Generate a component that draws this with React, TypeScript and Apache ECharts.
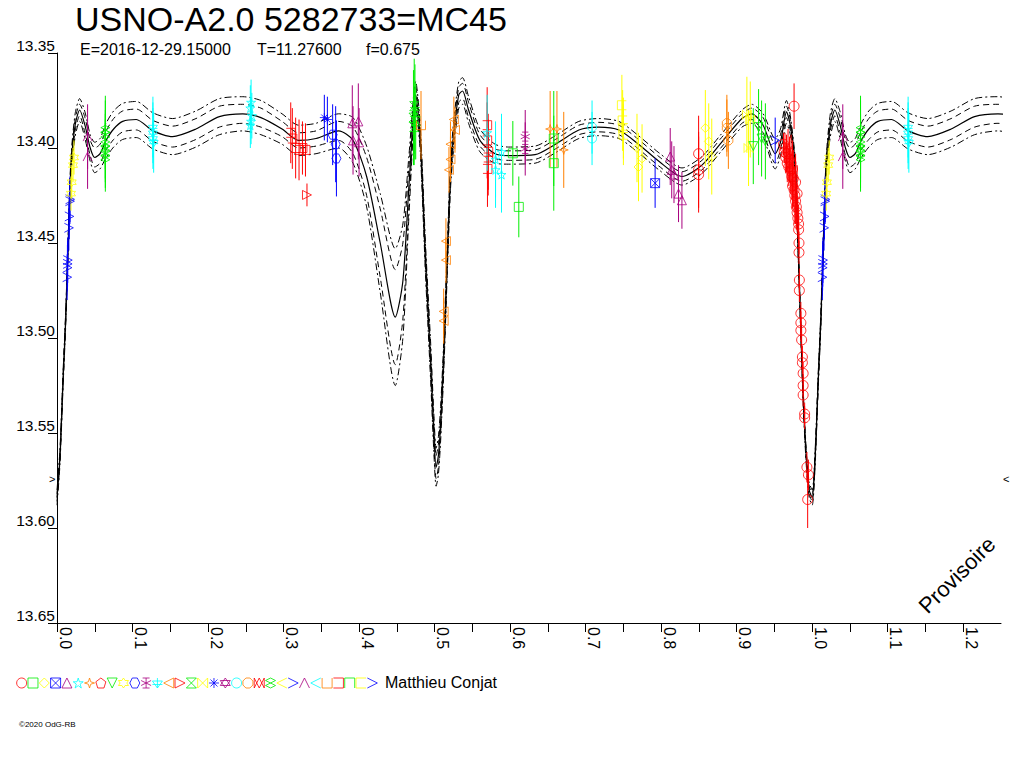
import React, { useEffect, useRef } from 'react';
import * as echarts from 'echarts';

const FONT = '"Liberation Sans", Arial, Helvetica, sans-serif';

// ---- model light curve (center) and envelope half-widths ----
const modelPhase = [0.000, 0.004, 0.008, 0.0116, 0.015, 0.0185, 0.024, 0.030, 0.037, 0.044, 0.050, 0.057, 0.065, 0.075, 0.087, 0.105, 0.127, 0.153, 0.184, 0.215, 0.246, 0.270, 0.298, 0.320, 0.343, 0.373, 0.392, 0.410, 0.428, 0.448, 0.458, 0.466, 0.475, 0.481, 0.488, 0.4947, 0.499, 0.502, 0.505, 0.508, 0.5123, 0.5167, 0.521, 0.5255, 0.532, 0.537, 0.545, 0.560, 0.580, 0.598, 0.633, 0.660, 0.691, 0.717, 0.744, 0.770, 0.797, 0.8275, 0.854, 0.880, 0.907, 0.920, 0.935, 0.951, 0.958, 0.966, 0.971, 0.9775, 0.981, 0.9844, 0.988, 0.992, 0.996];
const modelMag = [13.584, 13.562, 13.522, 13.489, 13.448, 13.410, 13.388, 13.380, 13.388, 13.400, 13.405, 13.403, 13.396, 13.390, 13.386, 13.385, 13.391, 13.394, 13.390, 13.3835, 13.382, 13.384, 13.390, 13.396, 13.395, 13.391, 13.396, 13.415, 13.450, 13.489, 13.470, 13.420, 13.372, 13.395, 13.459, 13.512, 13.550, 13.568, 13.562, 13.545, 13.508, 13.460, 13.415, 13.392, 13.372, 13.370, 13.380, 13.396, 13.403, 13.404, 13.4035, 13.398, 13.3905, 13.389, 13.3905, 13.398, 13.407, 13.415, 13.409, 13.397, 13.3845, 13.382, 13.388, 13.403, 13.397, 13.381, 13.388, 13.410, 13.448, 13.489, 13.530, 13.562, 13.580];
const innerHalf = [0.002, 0.002, 0.002, 0.002, 0.002, 0.003, 0.003, 0.003, 0.004, 0.004, 0.005, 0.005, 0.005, 0.0055, 0.0055, 0.0055, 0.0055, 0.0055, 0.0055, 0.0055, 0.005, 0.005, 0.004, 0.004, 0.004, 0.005, 0.007, 0.010, 0.018, 0.025, 0.020, 0.010, 0.004, 0.004, 0.005, 0.006, 0.006, 0.006, 0.006, 0.005, 0.005, 0.004, 0.004, 0.004, 0.004, 0.004, 0.004, 0.003, 0.0025, 0.0025, 0.0025, 0.0025, 0.0025, 0.0025, 0.0025, 0.0025, 0.0025, 0.0025, 0.0025, 0.0025, 0.0025, 0.003, 0.004, 0.005, 0.004, 0.003, 0.003, 0.002, 0.002, 0.002, 0.002, 0.002, 0.002];
const outerHalf = [0.004, 0.004, 0.004, 0.004, 0.004, 0.005, 0.006, 0.006, 0.007, 0.007, 0.008, 0.008, 0.009, 0.0095, 0.0095, 0.0095, 0.0095, 0.0095, 0.0095, 0.0095, 0.009, 0.009, 0.008, 0.008, 0.008, 0.009, 0.012, 0.016, 0.026, 0.036, 0.030, 0.016, 0.007, 0.007, 0.008, 0.010, 0.010, 0.010, 0.010, 0.009, 0.008, 0.007, 0.007, 0.007, 0.007, 0.007, 0.007, 0.006, 0.005, 0.0045, 0.0045, 0.0045, 0.0045, 0.0045, 0.0045, 0.0045, 0.0045, 0.0045, 0.0045, 0.0045, 0.0045, 0.005, 0.006, 0.008, 0.007, 0.006, 0.005, 0.004, 0.004, 0.004, 0.004, 0.004, 0.004];

// ---- legend styles (colour + symbol), in legend order ----
const RED = '#ff0000', GREEN = '#00ee00', YELLOW = '#ffff00', BLUE = '#0000ff', MAGENTA = '#a8007f', CYAN = '#00ffff', ORANGE = '#ff8000';
const legendColors = [RED, GREEN, YELLOW, BLUE, MAGENTA, CYAN, ORANGE, RED, GREEN, YELLOW, BLUE, MAGENTA, CYAN, ORANGE, RED, GREEN, YELLOW, BLUE, MAGENTA, CYAN, ORANGE, RED, GREEN, YELLOW, BLUE, MAGENTA, CYAN, ORANGE, RED, GREEN, YELLOW, BLUE];
const legendSymbols = [
  'circle',
  'rect',
  'diamond',
  'path://M0,0L10,0L10,10L0,10ZM0,0L10,10M10,0L0,10',
  'triangle',
  'path://M5,0L6.2,3.6L10,3.6L6.9,5.8L8.1,9.5L5,7.2L1.9,9.5L3.1,5.8L0,3.6L3.8,3.6Z',
  'path://M5,0L6.2,3.8L10,5L6.2,6.2L5,10L3.8,6.2L0,5L3.8,3.8Z',
  'path://M5,0L10,3.8L8.1,10L1.9,10L0,3.8Z',
  'path://M0,0L10,0L5,10Z',
  'path://M5,0L6.4,2.5L9.3,2.5L7.9,5L9.3,7.5L6.4,7.5L5,10L3.6,7.5L0.7,7.5L2.1,5L0.7,2.5L3.6,2.5Z',
  'path://M2.5,0L7.5,0L10,5L7.5,10L2.5,10L0,5Z',
  'path://M5,0L5,10M0.7,2.5L9.3,7.5M0.7,7.5L9.3,2.5M2,0L8,0M2,10L8,10',
  'path://M0,3L10,3L5,10ZM5,0L5,10M0,6.5L10,6.5',
  'path://M10,0L10,10L0,5Z',
  'path://M0,0L0,10L10,5Z',
  'path://M0,0L10,0L0,10L10,10Z',
  'path://M0,0L0,10L10,0L10,10Z',
  'path://M5,0L5,10M0,5L10,5M1.5,1.5L8.5,8.5M8.5,1.5L1.5,8.5',
  'path://M5,0L9.3,7.5L0.7,7.5ZM5,10L0.7,2.5L9.3,2.5Z',
  'circle',
  'path://M3,0L7,0L10,3L10,7L7,10L3,10L0,7L0,3Z',
  'path://M0,2L5,8L10,2L10,8L5,2L0,8Z',
  'path://M5,0L8,2.5L5,5L2,2.5ZM5,5L8,7.5L5,10L2,7.5Z',
  'path://M10,0L0,5L10,10',
  'path://M0,0L10,5L0,10',
  'path://M0,10L5,0L10,10',
  'path://M10,0L0,5L10,10',
  'path://M0,0L0,10L10,10L10,0',
  'path://M0,0L10,0L10,10L0,10',
  'path://M0,10L0,0L10,0L10,10',
  'path://M10,0L0,0L0,10L10,10',
  'path://M0,0L10,5L0,10',
];

// ---- observations: [phase, magnitude, error] ----
const obsBlueArrow = [[0.0172, 13.427, 0.012], [0.0171, 13.428, 0.012], [0.0163, 13.436, 0.012], [0.0157, 13.442, 0.012], [0.0142, 13.459, 0.012], [0.0140, 13.461, 0.012], [0.0138, 13.463, 0.012], [0.0134, 13.468, 0.012]];
const obsYellowStar = [[0.0225, 13.405, 0.009], [0.0212, 13.409, 0.009], [0.0195, 13.418, 0.009], [0.0185, 13.424, 0.009]];
const obsMagentaChevron = [[0.0405, 13.394, 0.017], [0.0405, 13.4045, 0.017]];
const obsGreenEight = [[0.064, 13.3905, 0.018], [0.064, 13.393, 0.018], [0.064, 13.398, 0.018], [0.064, 13.400, 0.018], [0.064, 13.403, 0.018], [0.064, 13.405, 0.018]];
const obsCyanAsterisk = [[0.127, 13.389, 0.016], [0.127, 13.392, 0.016], [0.127, 13.395, 0.016], [0.128, 13.397, 0.016]];
const obsCyanStarA = [[0.257, 13.376, 0.012], [0.256, 13.379, 0.012], [0.258, 13.383, 0.012], [0.257, 13.386, 0.012], [0.256, 13.388, 0.012]];
const obsRedBracketA = [[0.3095, 13.392, 0.016], [0.3116, 13.395, 0.016], [0.316, 13.400, 0.016], [0.3205, 13.401, 0.016], [0.325, 13.400, 0.014], [0.329, 13.401, 0.014]];
const obsRedRightTri = [[0.331, 13.4247, 0.006]];
const obsBlueXStar = [[0.354, 13.384, 0.012], [0.358, 13.385, 0.012]];
const obsBlueHexagon = [[0.365, 13.393, 0.016], [0.369, 13.398, 0.02], [0.370, 13.4055, 0.02]];
const obsMagentaTriA = [[0.391, 13.387, 0.02], [0.399, 13.386, 0.02], [0.392, 13.396, 0.018], [0.400, 13.397, 0.018]];
const obsGreenHourglass = [[0.473, 13.378, 0.025], [0.474, 13.381, 0.025], [0.472, 13.384, 0.025], [0.475, 13.386, 0.02], [0.473, 13.389, 0.02]];
const obsOrangeCup = [[0.482, 13.388, 0.018]];
const obsOrangeLeftTri = [[0.5255, 13.385, 0.012], [0.527, 13.3905, 0.012], [0.521, 13.398, 0.012], [0.521, 13.406, 0.012], [0.519, 13.4115, 0.012], [0.515, 13.449, 0.012], [0.515, 13.459, 0.012], [0.512, 13.486, 0.012], [0.512, 13.491, 0.012]];
const obsRedBracketB = [[0.5696, 13.388, 0.02], [0.5696, 13.396, 0.02], [0.571, 13.402, 0.02], [0.571, 13.405, 0.02], [0.570, 13.411, 0.02]];
const obsCyanStarB = [[0.5696, 13.392, 0.02], [0.5807, 13.406, 0.02], [0.5807, 13.4115, 0.02], [0.5886, 13.402, 0.02], [0.5886, 13.414, 0.02]];
const obsGreenSquare = [[0.6036, 13.4028, 0.017], [0.6115, 13.431, 0.016], [0.6578, 13.395, 0.025], [0.6578, 13.408, 0.025]];
const obsMagentaAsterisk = [[0.620, 13.394, 0.014], [0.620, 13.4005, 0.014]];
const obsOrangeStar4 = [[0.653, 13.390, 0.02], [0.662, 13.390, 0.02], [0.671, 13.401, 0.02]];
const obsCyanCircle = [[0.7085, 13.389, 0.014], [0.7085, 13.395, 0.014]];
const obsYellowBracket = [[0.748, 13.3775, 0.016], [0.749, 13.3855, 0.016], [0.750, 13.3895, 0.016], [0.750, 13.393, 0.016]];
const obsYellowDiamond = [[0.768, 13.400, 0.018], [0.7747, 13.4055, 0.018], [0.770, 13.410, 0.018], [0.8585, 13.3895, 0.02], [0.863, 13.3965, 0.02], [0.867, 13.4045, 0.02]];
const obsBlueXSquare = [[0.792, 13.4185, 0.013]];
const obsMagentaTriB = [[0.812, 13.4045, 0.015], [0.814, 13.4115, 0.015], [0.817, 13.414, 0.015], [0.823, 13.424, 0.015], [0.8275, 13.4275, 0.015]];
const obsRedCircleA = [[0.8496, 13.403, 0.02], [0.8496, 13.4115, 0.02], [0.8496, 13.414, 0.02]];
const obsOrangeOctagon = [[0.887, 13.387, 0.015], [0.887, 13.3895, 0.015], [0.889, 13.396, 0.015]];
const obsYellowBowtie = [[0.9135, 13.3825, 0.02], [0.9157, 13.400, 0.02], [0.918, 13.385, 0.02]];
const obsGreenDownTri = [[0.922, 13.399, 0.02], [0.929, 13.389, 0.02], [0.933, 13.395, 0.02], [0.938, 13.3965, 0.02]];
const obsBlueChevron = [[0.951, 13.396, 0.012]];
const obsRedCircleB = [
  [0.962, 13.398, 0.006], [0.963, 13.402, 0.006], [0.964, 13.400, 0.008], [0.965, 13.405, 0.008], [0.966, 13.403, 0.010],
  [0.967, 13.408, 0.010], [0.968, 13.402, 0.012], [0.969, 13.410, 0.010], [0.970, 13.406, 0.012], [0.971, 13.412, 0.012],
  [0.972, 13.408, 0.015], [0.973, 13.415, 0.012], [0.974, 13.411, 0.015], [0.974, 13.420, 0.012], [0.975, 13.416, 0.015],
  [0.976, 13.422, 0.012], [0.976, 13.378, 0.012], [0.977, 13.425, 0.015], [0.978, 13.418, 0.015], [0.978, 13.428, 0.012],
  [0.979, 13.431, 0.012], [0.980, 13.424, 0.015], [0.980, 13.434, 0.010], [0.981, 13.437, 0.010], [0.982, 13.440, 0.010],
  [0.982, 13.443, 0.008], [0.9825, 13.450, 0.006], [0.9825, 13.455, 0.006], [0.983, 13.4695, 0.006], [0.983, 13.475, 0.006],
  [0.985, 13.487, 0.006], [0.985, 13.492, 0.006], [0.985, 13.496, 0.006], [0.986, 13.501, 0.006], [0.987, 13.510, 0.006],
  [0.987, 13.513, 0.006], [0.988, 13.5186, 0.006], [0.988, 13.525, 0.006], [0.988, 13.530, 0.006], [0.990, 13.540, 0.006],
  [0.990, 13.542, 0.006], [0.993, 13.568, 0.008], [0.995, 13.572, 0.008], [0.994, 13.585, 0.015],
];

const observations = [
  { style: 31, pts: obsBlueArrow },
  { style: 9, pts: obsYellowStar },
  { style: 25, pts: obsMagentaChevron },
  { style: 22, pts: obsGreenEight },
  { style: 12, pts: obsCyanAsterisk },
  { style: 5, pts: obsCyanStarA },
  { style: 28, pts: obsRedBracketA },
  { style: 14, pts: obsRedRightTri },
  { style: 17, pts: obsBlueXStar },
  { style: 10, pts: obsBlueHexagon },
  { style: 4, pts: obsMagentaTriA },
  { style: 15, pts: obsGreenHourglass },
  { style: 27, pts: obsOrangeCup },
  { style: 13, pts: obsOrangeLeftTri },
  { style: 28, pts: obsRedBracketB },
  { style: 5, pts: obsCyanStarB },
  { style: 1, pts: obsGreenSquare },
  { style: 11, pts: obsMagentaAsterisk },
  { style: 6, pts: obsOrangeStar4 },
  { style: 19, pts: obsCyanCircle },
  { style: 30, pts: obsYellowBracket },
  { style: 2, pts: obsYellowDiamond },
  { style: 3, pts: obsBlueXSquare },
  { style: 4, pts: obsMagentaTriB },
  { style: 0, pts: obsRedCircleA },
  { style: 20, pts: obsOrangeOctagon },
  { style: 16, pts: obsYellowBowtie },
  { style: 8, pts: obsGreenDownTri },
  { style: 24, pts: obsBlueChevron },
  { style: 0, pts: obsRedCircleB },
];

const observerName = 'Matthieu Conjat';
const titleText = 'USNO-A2.0 5282733=MC45';
const subtitleParts = ['E=2016-12-29.15000', 'T=11.27600', 'f=0.675'];

function curve(offsetSign: number, widths: number[] | null) {
  const base = modelPhase.map((p, i) => [p, modelMag[i] + (widths ? offsetSign * widths[i] : 0)]);
  const wrapped = base.filter((d) => d[0] <= 0.3).map((d) => [d[0] + 1, d[1]]);
  return base.concat(wrapped);
}

function withWrap(pts: number[][]) {
  return pts.concat(pts.filter((p) => p[0] < 0.25).map((p) => [p[0] + 1, p[1], p[2]]));
}

export default function App() {
  const ref = useRef<HTMLDivElement>(null);
  useEffect(() => {
    document.body.style.margin = '0';
    if (!ref.current) return;
    const chart = echarts.init(ref.current, undefined, { renderer: 'svg' });

    const lineSeries: any[] = [
      { w: null, s: 0, type: 'solid', lw: 1.2 },
      { w: innerHalf, s: -1, type: [6, 4], lw: 1 },
      { w: innerHalf, s: 1, type: [6, 4], lw: 1 },
      { w: outerHalf, s: -1, type: [7, 3, 2, 3], lw: 1 },
      { w: outerHalf, s: 1, type: [7, 3, 2, 3], lw: 1 },
    ].map((c) => ({
      type: 'line',
      data: curve(c.s, c.w),
      showSymbol: false,
      symbol: 'none',
      smooth: 0.25,
      silent: true,
      clip: true,
      lineStyle: { color: '#000', width: c.lw, type: c.type },
      z: 2,
    }));

    const obsSeries: any[] = [];
    observations.forEach((g) => {
      const color = legendColors[g.style];
      const pts = withWrap(g.pts);
      obsSeries.push({
        type: 'custom',
        data: pts,
        encode: { x: 0, y: 1 },
        clip: true,
        silent: true,
        z: 3,
        renderItem: (_p: any, api: any) => {
          const x = api.value(0), y = api.value(1), e = api.value(2);
          const a = api.coord([x, y - e]);
          const b = api.coord([x, y + e]);
          return { type: 'line', shape: { x1: a[0], y1: a[1], x2: b[0], y2: b[1] }, style: { stroke: color, lineWidth: 1 } };
        },
      });
      obsSeries.push({
        type: 'scatter',
        data: pts.map((p) => [p[0], p[1]]),
        symbol: legendSymbols[g.style],
        symbolSize: g.style === 0 ? 10 : 9,
        silent: true,
        clip: true,
        itemStyle: { color: 'rgba(0,0,0,0)', borderColor: color, borderWidth: 1 },
        z: 4,
      });
    });

    const legendSeries = {
      type: 'scatter',
      xAxisIndex: 1,
      yAxisIndex: 1,
      silent: true,
      symbolSize: 10,
      data: legendSymbols.map((s, i) => ({
        value: [i, 0],
        symbol: s,
        itemStyle: { color: 'rgba(0,0,0,0)', borderColor: legendColors[i], borderWidth: 1 },
      })),
    };

    const subX = [80, 257, 366];

    chart.setOption({
      animation: false,
      backgroundColor: '#fff',
      textStyle: { fontFamily: FONT },
      title: [
        { text: titleText, left: 75, top: 2, padding: 0, textStyle: { fontSize: 34, fontWeight: 'normal', color: '#000', fontFamily: FONT } },
      ],
      grid: [
        { left: 57, right: 23, top: 53, bottom: 145 },
        { left: 16, top: 677, width: 362, height: 12 },
      ],
      xAxis: [
        {
          type: 'value', min: 0, max: 1.25, interval: 0.05,
          axisLine: { lineStyle: { color: '#000', width: 1 } },
          axisTick: { show: true, length: 9, lineStyle: { color: '#000' } },
          axisLabel: {
            rotate: -90, margin: 4, fontSize: 16, color: '#000', fontFamily: FONT, verticalAlign: 'bottom',
            formatter: (v: number) => (Math.round(v * 100) % 10 === 0 ? v.toFixed(1) : ''),
            showMaxLabel: false,
          },
          splitLine: { show: false },
        },
        { type: 'value', gridIndex: 1, min: -0.5, max: 31.5, show: false },
      ],
      yAxis: [
        {
          type: 'value', inverse: true, min: 13.35, max: 13.65, interval: 0.05,
          axisLine: { show: true, lineStyle: { color: '#000', width: 1 } },
          axisTick: { show: true, length: 9, lineStyle: { color: '#000' } },
          axisLabel: { margin: 2, fontSize: 15.5, color: '#000', fontFamily: FONT, verticalAlign: 'bottom', formatter: (v: number) => v.toFixed(2) },
          splitLine: { show: false },
        },
        { type: 'value', gridIndex: 1, min: -1, max: 1, show: false },
      ],
      graphic: [
        ...subtitleParts.map((t, i) => ({ type: 'text', left: subX[i], top: 41, style: { text: t, fontSize: 16, fill: '#000', fontFamily: FONT } })),
        { type: 'text', left: 385, top: 674, style: { text: observerName, fontSize: 16, fill: '#000', fontFamily: FONT } },
        { type: 'text', left: 19, top: 720, style: { text: '©2020 OdG-RB', fontSize: 8, fill: '#000', fontFamily: FONT } },
        { type: 'text', x: 49, y: 473, style: { text: '>', fontSize: 11, fill: '#000', fontFamily: FONT } },
        { type: 'text', x: 1003, y: 473, style: { text: '<', fontSize: 11, fill: '#000', fontFamily: FONT } },
        {
          type: 'text', x: 957, y: 575, rotation: Math.PI / 4,
          style: { text: 'Provisoire', fontSize: 22, fill: '#000', fontFamily: FONT, align: 'center', verticalAlign: 'middle' },
        },
      ],
      series: [...lineSeries, ...obsSeries, legendSeries],
    });
    return () => chart.dispose();
  }, []);
  return <div ref={ref} style={{ width: 1024, height: 768 }} />;
}
